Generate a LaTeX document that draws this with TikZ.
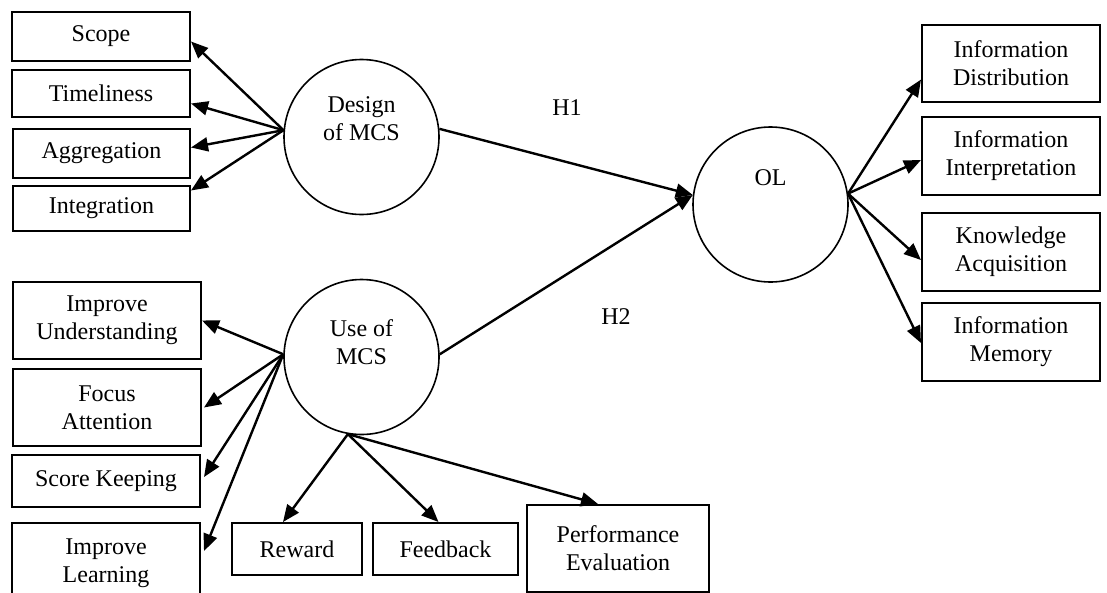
\documentclass[tikz,border=0pt]{standalone}
\usepackage{fontspec}
\setmainfont{Liberation Serif}
\usetikzlibrary{arrows.meta,calc}
\begin{document}
\begin{tikzpicture}[x=1pt,y=-1pt,
  box/.style={draw,rectangle,line width=2pt,inner sep=0pt,align=center,font=\fontsize{24}{28}\selectfont},
  latent/.style={draw,circle,line width=1.6pt,minimum size=155pt,inner sep=0pt},
  intext/.style={align=center,font=\fontsize{24}{28}\selectfont},
  hlabel/.style={font=\fontsize{24}{28}\selectfont},
  arr/.style={line width=2.4pt,-{Triangle[length=17pt,width=14pt]}}
]
\useasboundingbox (0,0) rectangle (1107,592);
% latent constructs
\node[latent] (des) at (361.5,137) {};
\node[latent] (use) at (361.5,357) {};
\node[latent] (ol) at (770.5,204.5) {};
\node[intext] (desT) at (361.5,119) {Design\\of MCS};
\node[intext] (useT) at (361.5,342) {Use of\\MCS};
\node[intext] (olT) at (770.5,178) {OL};
% design indicators
\node[box,minimum width=178pt,minimum height=49pt] (scope) at (101,36.5) {Scope};
\node[box,minimum width=178pt,minimum height=47pt] (time) at (101,93.5) {Timeliness};
\node[box,minimum width=177pt,minimum height=49pt] (aggr) at (101.5,153.5) {Aggregation};
\node[box,minimum width=177pt,minimum height=45pt] (integ) at (101.5,208.5) {Integration};
% use indicators
\node[box,minimum width=188pt,minimum height=77pt] (impu) at (107,320.5) {Improve\\Understanding};
\node[box,minimum width=188pt,minimum height=77pt] (focus) at (107,407.5) {Focus\\Attention};
\node[box,minimum width=188pt,minimum height=52pt] (score) at (106,481) {Score Keeping};
\node[box,minimum width=188pt,minimum height=80pt] (impl) at (106,563) {Improve\\Learning};
\node[box,minimum width=130pt,minimum height=52pt] (reward) at (297,549) {Reward};
\node[box,minimum width=145pt,minimum height=52pt] (feed) at (445.5,549) {Feedback};
\node[box,minimum width=182pt,minimum height=87pt] (perf) at (618,548.5) {Performance\\Evaluation};
% OL indicators
\node[box,minimum width=178pt,minimum height=77pt] (idist) at (1011,63.5) {Information\\Distribution};
\node[box,minimum width=178pt,minimum height=78pt] (iint) at (1011,156) {Information\\Interpretation};
\node[box,minimum width=178pt,minimum height=78pt] (know) at (1011,252) {Knowledge\\Acquisition};
\node[box,minimum width=178pt,minimum height=78pt] (imem) at (1011,342) {Information\\Memory};
% hypothesis labels
\node[hlabel] (h1) at (567,108) {H1};
\node[hlabel] (h2) at (616,317) {H2};
% connectors
\coordinate (dsrc) at (des.175);
\draw[arr] (dsrc) -- ([yshift=-5pt]scope.east);
\draw[arr] (dsrc) -- ([yshift=-10pt]time.east);
\draw[arr] (dsrc) -- ([yshift=6pt]aggr.east);
\draw[arr] (dsrc) -- ([yshift=18pt]integ.east);
\coordinate (usrc) at (use.178);
\draw[arr] (usrc) -- (impu.east);
\draw[arr] (usrc) -- ([xshift=2pt]focus.east);
\draw[arr] (usrc) -- ([xshift=3pt,yshift=4pt]score.east);
\draw[arr] (usrc) -- ([xshift=3pt,yshift=12pt]impl.east);
\coordinate (ubot) at (use.260);
\draw[arr] (ubot) -- ([xshift=-14pt]reward.north);
\draw[arr] (ubot) -- ([xshift=-7pt]feed.north);
\draw[arr] (ubot) -- ([xshift=-20pt]perf.north);
\coordinate (oltip) at (ol.173);
\draw[arr] (des.6) -- (oltip);
\draw[arr] (use.2) -- (oltip);
\coordinate (osrc) at (ol.8);
\draw[arr] (osrc) -- ([yshift=-16pt]idist.west);
\draw[arr] (osrc) -- ([yshift=-4pt]iint.west);
\draw[arr] (osrc) -- ([yshift=-8pt]know.west);
\draw[arr] (osrc) -- ([yshift=-1pt]imem.west);
\end{tikzpicture}
\end{document}
